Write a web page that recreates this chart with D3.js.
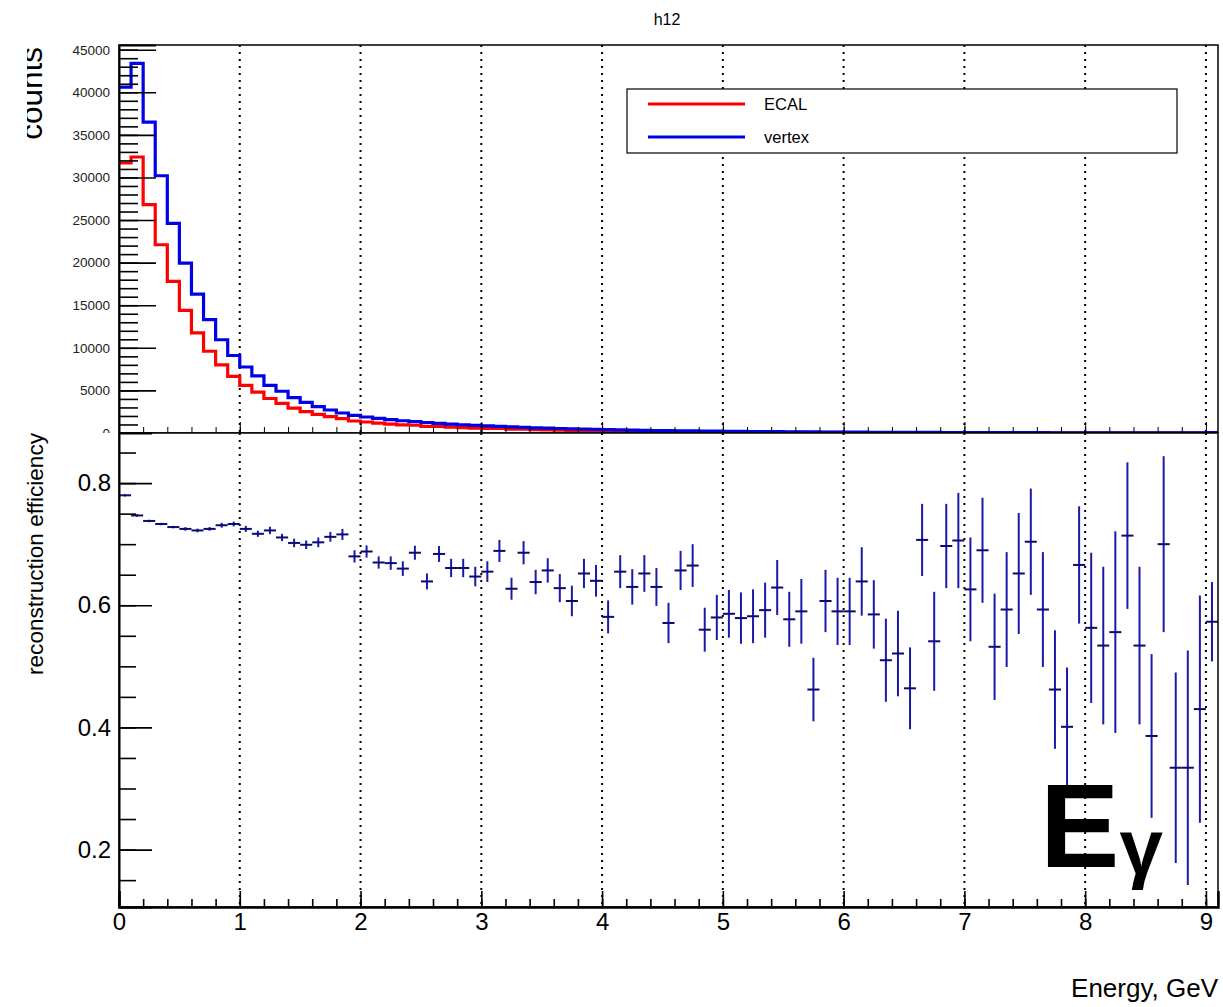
<!DOCTYPE html>
<html>
<head>
<meta charset="utf-8">
<script src="https://cdn.jsdelivr.net/npm/d3@7"></script>
<style>
body { margin: 0; background: #fff; }
svg { display: block; font-family: 'Liberation Sans', Arial, Helvetica, sans-serif; }
</style>
</head>
<body>
<svg></svg>
<script>
// histogram binning (like the TH1F constructor)
const nBins = 91, xMin = 0, xMax = 9.1;
const binW = (xMax - xMin) / nBins;

const seriesNames = ['ECAL', 'vertex'];

// counts per bin
const ecalCounts = [31700, 32400, 26800, 22100, 17800, 14400, 11750, 9600, 8000, 6650,
    5600, 4800, 4050, 3480, 2920, 2520, 2180, 1920, 1680, 1410,
    1290, 1150, 1045, 950, 910, 785, 780, 695, 640, 580,
    545, 530, 445, 455, 390, 375, 333, 298, 297, 269,
    227, 239, 214, 205, 186, 157, 168, 160, 126, 122,
    114, 105, 99, 95, 94, 81, 77, 56, 70, 64,
    59, 60, 51, 42, 40, 33, 47, 34, 40, 38,
    31, 32, 23, 24, 25, 25, 20, 14, 12, 18,
    14, 12, 12, 14, 10, 7, 11, 5, 5, 6, 32];

const vertexCounts = [40600, 43400, 36500, 30200, 24600, 19950, 16300, 13300, 10950, 9100,
    7750, 6700, 5600, 4900, 4150, 3600, 3100, 2700, 2350, 2070,
    1880, 1720, 1560, 1440, 1330, 1230, 1140, 1050, 970, 900,
    830, 770, 710, 660, 610, 570, 530, 490, 455, 420,
    390, 365, 340, 315, 295, 275, 255, 240, 225, 210,
    195, 182, 170, 160, 150, 140, 130, 122, 115, 108,
    100, 94, 88, 82, 76, 71, 66, 62, 58, 54,
    50, 47, 44, 41, 38, 36, 33, 31, 29, 27,
    25, 23, 21, 20, 19, 17, 16, 15, 14, 13, 55];

// reconstruction efficiency and its error per bin (bottom pad)
const effValues = [0.780, 0.747, 0.738, 0.733, 0.728, 0.725, 0.7225, 0.725, 0.731, 0.733,
    0.725, 0.717, 0.7225, 0.711, 0.702, 0.699, 0.703, 0.712, 0.716, 0.680,
    0.688, 0.670, 0.669, 0.660, 0.686, 0.639, 0.684, 0.661, 0.661, 0.647,
    0.655, 0.689, 0.627, 0.686, 0.638, 0.657, 0.628, 0.607, 0.652, 0.640,
    0.581, 0.655, 0.630, 0.652, 0.630, 0.571, 0.657, 0.665, 0.560, 0.580,
    0.586, 0.579, 0.582, 0.592, 0.629, 0.577, 0.590, 0.462, 0.607, 0.590,
    0.590, 0.639, 0.585, 0.510, 0.521, 0.464, 0.707, 0.541, 0.697, 0.706,
    0.626, 0.690, 0.532, 0.593, 0.652, 0.704, 0.593, 0.462, 0.401, 0.666,
    0.563, 0.534, 0.556, 0.714, 0.534, 0.386, 0.700, 0.334, 0.334, 0.430, 0.573];

const effErrors = [0.002, 0.002, 0.002, 0.002, 0.002, 0.003, 0.003, 0.003, 0.004, 0.004,
    0.005, 0.005, 0.006, 0.006, 0.007, 0.007, 0.008, 0.008, 0.009, 0.010,
    0.010, 0.010, 0.011, 0.012, 0.0115, 0.013, 0.013, 0.015, 0.015, 0.016,
    0.017, 0.018, 0.018, 0.019, 0.020, 0.020, 0.023, 0.025, 0.024, 0.026,
    0.027, 0.027, 0.029, 0.030, 0.031, 0.033, 0.032, 0.035, 0.036, 0.037,
    0.039, 0.042, 0.044, 0.045, 0.045, 0.045, 0.053, 0.052, 0.051, 0.055,
    0.055, 0.056, 0.056, 0.068, 0.070, 0.067, 0.059, 0.081, 0.069, 0.078,
    0.085, 0.086, 0.087, 0.094, 0.099, 0.087, 0.094, 0.097, 0.097, 0.096,
    0.123, 0.129, 0.165, 0.120, 0.129, 0.134, 0.144, 0.156, 0.192, 0.186, 0.065];

const countTicks = [0, 5000, 10000, 15000, 20000, 25000, 30000, 35000, 40000, 45000];
const effTicks = [0.2, 0.4, 0.6, 0.8];
const energyTicks = [0, 1, 2, 3, 4, 5, 6, 7, 8, 9];

const size = {w: 1223, h: 1007};
const frame = {l: 119, r: 1218, t: 45, mid: 433, b: 907};
const svg = d3.select('svg');

svg.attr('width', size.w)
    .attr('height', size.h);

const x = d3.scaleLinear()
    .domain([xMin, xMax])
    .range([frame.l, frame.r]);

const yTop = d3.scaleLinear()
    .domain([0, 45550])
    .range([frame.mid, frame.t]);

const yBot = d3.scaleLinear()
    .domain([0.106, 0.882])
    .range([frame.b, frame.mid]);

const defs = svg.append('defs');
defs.append('clipPath').attr('id', 'clipTop')
    .append('rect').attr('x', 0).attr('y', 0).attr('width', size.w).attr('height', frame.mid);
defs.append('clipPath').attr('id', 'clipBot')
    .append('rect').attr('x', frame.l).attr('y', frame.mid)
    .attr('width', frame.r - frame.l).attr('height', frame.b - frame.mid);
defs.append('clipPath').attr('id', 'clipLabel')
    .append('rect').attr('x', 27).attr('y', 0).attr('width', 100).attr('height', 200);

drawTop(svg.append('g').attr('clip-path', 'url(#clipTop)'));
drawBottom(svg.append('g'));

// title
svg.append('text')
    .attr('x', 667)
    .attr('y', 25)
    .attr('text-anchor', 'middle')
    .style('font-size', '16px')
    .text('h12');


function grid(g, y0, y1) {
    g.selectAll('line.grid')
        .data(energyTicks.filter(d => d > 0))
        .enter()
        .append('line')
        .attr('class', 'grid')
        .attr('x1', d => x(d)).attr('x2', d => x(d))
        .attr('y1', y0).attr('y2', y1)
        .attr('stroke', '#000')
        .attr('stroke-width', 2)
        .attr('stroke-dasharray', '2,5');
}

// top pad: the two count histograms
function drawTop(g) {
    grid(g, frame.t, frame.mid);

    let line = d3.line()
        .x(d => x(d[0]))
        .y(d => yTop(d[1]))
        .curve(d3.curveStepAfter);

    let histos = [
        {name: seriesNames[0], values: ecalCounts, color: '#ff0000'},
        {name: seriesNames[1], values: vertexCounts, color: '#0000e6'}
    ];

    histos.forEach(function (h) {
        let pts = h.values.map((v, i) => [xMin + i * binW, v]);
        pts.push([xMax, h.values[h.values.length - 1]]);
        g.append('path')
            .attr('d', line(pts))
            .attr('fill', 'none')
            .attr('stroke', h.color)
            .attr('stroke-width', 3.2);
    });

    // frame
    g.append('rect')
        .attr('x', frame.l).attr('y', frame.t)
        .attr('width', frame.r - frame.l).attr('height', frame.mid - frame.t)
        .attr('fill', 'none').attr('stroke', '#000').attr('stroke-width', 1.5);

    // y axis, ROOT style ticks inside the frame
    let yMinor = g.append('g')
        .attr('transform', `translate(${frame.l},0)`)
        .call(d3.axisLeft(yTop).tickValues(d3.range(0, 45001, 1000)).tickSize(-19).tickFormat(''));
    yMinor.select('.domain').remove();

    let yAx = g.append('g')
        .attr('transform', `translate(${frame.l},0)`)
        .call(d3.axisLeft(yTop).tickValues(countTicks).tickSize(-37).tickPadding(9).tickFormat(d3.format('d')));
    yAx.select('.domain').attr('stroke-width', 2);
    yAx.selectAll('text').style('font-size', '13.5px').attr('fill', '#222');

    g.selectAll('.tick line').attr('stroke-width', 1.6);

    // x ticks on the bottom edge of the top pad
    g.append('g')
        .attr('transform', `translate(0,${frame.mid})`)
        .call(d3.axisBottom(x).tickValues(d3.range(0, 9.11, 0.2)).tickSize(-6).tickFormat(''))
        .select('.domain').remove();
    g.append('g')
        .attr('transform', `translate(0,${frame.mid})`)
        .call(d3.axisBottom(x).tickValues(energyTicks).tickSize(-11).tickFormat(''))
        .select('.domain').remove();

    // legend
    let leg = g.append('g');
    leg.append('rect')
        .attr('x', 627).attr('y', 89).attr('width', 550).attr('height', 64)
        .attr('fill', '#fff').attr('stroke', '#000').attr('stroke-width', 1.2);
    histos.forEach(function (h, i) {
        let yy = 104 + i * 33;
        leg.append('line')
            .attr('x1', 648).attr('x2', 745).attr('y1', yy).attr('y2', yy)
            .attr('stroke', h.color).attr('stroke-width', 3.2);
        leg.append('text')
            .attr('x', 764).attr('y', yy).attr('dy', '0.35em')
            .style('font-size', '16.5px')
            .text(h.name);
    });

    // y title, partly cut off at the pad edge
    svg.append('g').attr('clip-path', 'url(#clipLabel)')
        .append('text')
        .attr('transform', 'translate(42,47) rotate(-90)')
        .attr('text-anchor', 'end')
        .style('font-size', '31.5px')
        .text('counts');
}

// bottom pad: efficiency with error bars
function drawBottom(g) {
    grid(g, frame.mid, frame.b);

    let pts = g.append('g').attr('clip-path', 'url(#clipBot)');
    let bins = effValues.map((v, i) => ({c: xMin + (i + 0.5) * binW, v: v, e: effErrors[i]}));

    pts.selectAll('line.ey')
        .data(bins)
        .enter()
        .append('line')
        .attr('class', 'ey')
        .attr('x1', d => x(d.c)).attr('x2', d => x(d.c))
        .attr('y1', d => yBot(d.v - d.e)).attr('y2', d => yBot(d.v + d.e))
        .attr('stroke', '#1a1aa8').attr('stroke-width', 2);

    pts.selectAll('line.ex')
        .data(bins)
        .enter()
        .append('line')
        .attr('class', 'ex')
        .attr('x1', d => x(d.c - binW / 2)).attr('x2', d => x(d.c + binW / 2))
        .attr('y1', d => yBot(d.v)).attr('y2', d => yBot(d.v))
        .attr('stroke', '#0a0a70').attr('stroke-width', 2);

    // frame
    g.append('rect')
        .attr('x', frame.l).attr('y', frame.mid)
        .attr('width', frame.r - frame.l).attr('height', frame.b - frame.mid)
        .attr('fill', 'none').attr('stroke', '#000').attr('stroke-width', 1.5);

    // y axis
    g.append('g')
        .attr('transform', `translate(${frame.l},0)`)
        .call(d3.axisLeft(yBot).tickValues(d3.range(0.15, 0.881, 0.05)).tickSize(-17).tickFormat(''))
        .select('.domain').remove();

    let yAx = g.append('g')
        .attr('transform', `translate(${frame.l},0)`)
        .call(d3.axisLeft(yBot).tickValues(effTicks).tickSize(-33).tickPadding(8).tickFormat(d3.format('.1f')));
    yAx.select('.domain').attr('stroke-width', 2);
    yAx.selectAll('text').style('font-size', '24px').attr('fill', '#000');

    // x axis
    g.append('g')
        .attr('transform', `translate(0,${frame.b})`)
        .call(d3.axisBottom(x).tickValues(d3.range(0, 9.11, 0.2)).tickSize(-8).tickFormat(''))
        .select('.domain').remove();

    let xAx = g.append('g')
        .attr('transform', `translate(0,${frame.b})`)
        .call(d3.axisBottom(x).tickValues(energyTicks).tickSize(-16).tickPadding(6).tickFormat(d3.format('d')));
    xAx.select('.domain').attr('stroke-width', 2.5);
    xAx.selectAll('text').style('font-size', '24px').attr('fill', '#000');

    g.selectAll('.tick line').attr('stroke-width', 1.6);

    // axis titles
    g.append('text')
        .attr('transform', 'translate(43,433) rotate(-90)')
        .attr('text-anchor', 'end')
        .style('font-size', '22.6px')
        .text('reconstruction efficiency');

    g.append('text')
        .attr('x', 1218).attr('y', 997)
        .attr('text-anchor', 'end')
        .style('font-size', '26px')
        .text('Energy, GeV');

    // big label
    let lbl = g.append('text')
        .attr('x', 1040).attr('y', 867)
        .style('font-weight', 'bold')
        .style('font-size', '119px');
    lbl.append('tspan').text('E');
    lbl.append('tspan').attr('dy', 7).style('font-size', '78px').text('γ');
}
</script>
</body>
</html>
